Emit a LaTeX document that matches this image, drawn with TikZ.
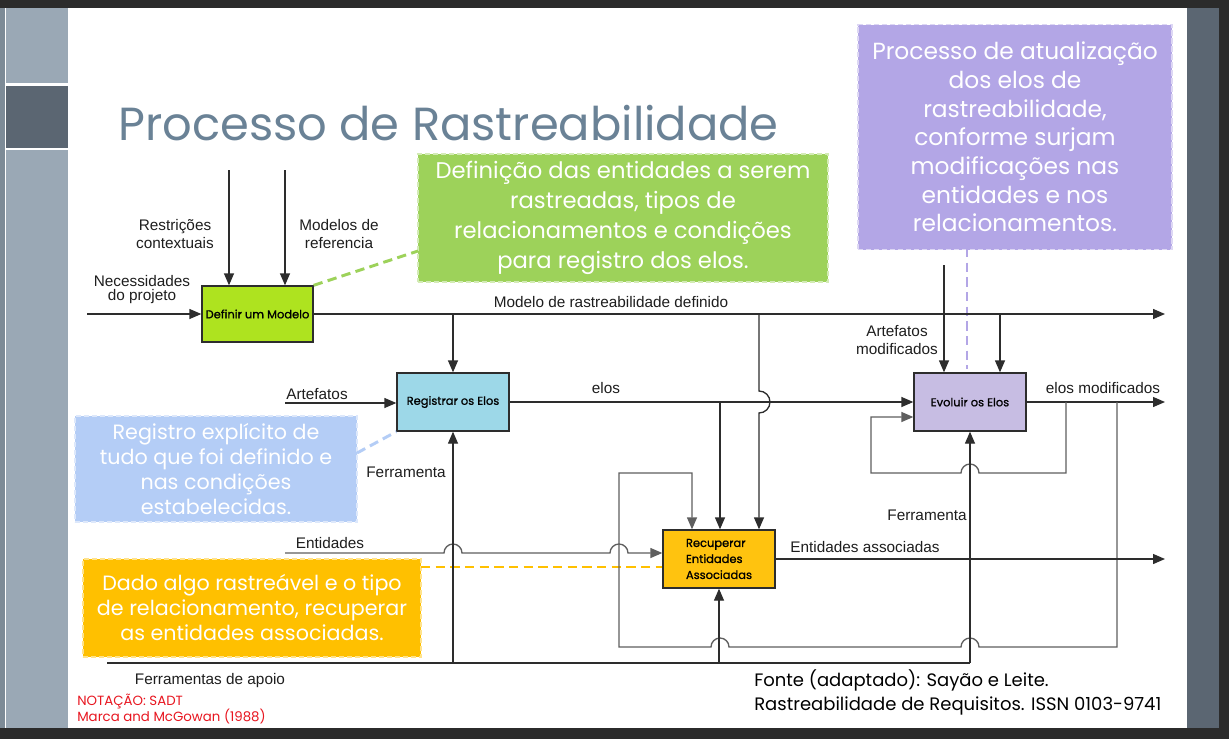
\documentclass[tikz,border=0pt]{standalone}
\usepackage{fontspec}
\setmainfont{Liberation Sans}
\newfontfamily\geofont{Poppins}
\newfontfamily\geoboxfont{Poppins}[FakeBold=1]
\definecolor{framedark}{RGB}{43, 43, 43}
\definecolor{edgeslate}{RGB}{125, 139, 151}
\definecolor{sidelight}{RGB}{154, 168, 181}
\definecolor{sidedark}{RGB}{91, 102, 114}
\definecolor{titleslate}{RGB}{106, 130, 150}
\definecolor{linegray}{RGB}{45, 45, 45}
\definecolor{loopgray}{RGB}{95, 95, 95}
\definecolor{labelgray}{RGB}{30, 30, 30}
\definecolor{modelgreen}{RGB}{174, 227, 31}
\definecolor{regblue}{RGB}{157, 216, 232}
\definecolor{recamber}{RGB}{255, 195, 15}
\definecolor{evolilac}{RGB}{199, 189, 227}
\definecolor{notegreen}{RGB}{157, 210, 90}
\definecolor{notelilac}{RGB}{179, 166, 230}
\definecolor{noteblue}{RGB}{180, 205, 246}
\definecolor{noteamber}{RGB}{255, 192, 0}
\definecolor{notered}{RGB}{232, 22, 32}
\usetikzlibrary{arrows.meta, calc}

\tikzset{
  flow/.style={draw=linegray, line width=1pt},
  arr/.style={flow, -{Triangle[length=9pt, width=7.5pt]}},
  procbox/.style={draw=linegray, line width=1pt, minimum width=84pt, minimum height=43.5pt,
    inner sep=2pt, font=\geoboxfont\fontsize{8.6pt}{12pt}\selectfont},
  lbl/.style={text=labelgray, inner sep=0pt, align=center, font=\fontsize{11.5pt}{13pt}\selectfont},
  notebox/.style={dash pattern=on 4pt off 2pt, line width=1pt, text=white, align=center, inner sep=0pt},
  notelink/.style={dash pattern=on 7pt off 4pt, line width=2.2pt},
}

\begin{document}
\begin{tikzpicture}[x=0.75pt, y=-0.75pt]
  \useasboundingbox (0,0) rectangle (1229,739);
  % slide frame
  \fill[framedark] (0,0) rectangle (1229,739);
  \fill[edgeslate] (0,8) rectangle (5,728);
  \fill[white] (5,8) rectangle (1187,728);
  \fill[sidelight] (6,8) rectangle (68,83);
  \fill[sidedark] (6,86) rectangle (68,148);
  \fill[sidelight] (6,150) rectangle (68,728);
  \fill[sidedark] (1187,8) rectangle (1219,728);

  \node[anchor=base west, inner sep=0pt, text=titleslate, font=\geofont\fontsize{34.8pt}{40pt}\selectfont] (title) at (118,140) {Processo de Rastreabilidade};

  % activities
  \node[procbox, fill=modelgreen, minimum width=83.25pt, minimum height=42pt] (defmod) at (257.5,314) {Definir um Modelo};
  \node[procbox, fill=regblue] (reg) at (453,402) {Registrar os Elos};
  \node[procbox, fill=evolilac] (evo) at (970,402) {Evoluir os Elos};
  \node[procbox, fill=recamber, align=left] (rec) at (719,559) {Recuperar\\Entidades\\Associadas};

  % notes
  \node[notebox, fill=notegreen, draw=notegreen!45!white, minimum width=307.5pt, minimum height=96pt,
    font=\geofont\fontsize{17pt}{22.5pt}\selectfont] (defnote) at (623,218)
    {Definição das entidades a serem\\rastreadas, tipos de\\relacionamentos e condições\\para registro dos elos.};
  \node[notebox, fill=notelilac, draw=notelilac!45!white, minimum width=235.5pt, minimum height=168.75pt,
    font=\geofont\fontsize{17.5pt}{21.5pt}\selectfont] (evonote) at (1015,137)
    {Processo de atualização\\dos elos de\\rastreabilidade,\\conforme surjam\\modificações nas\\entidades e nos\\relacionamentos.};
  \node[notebox, fill=noteblue, draw=noteblue!45!white, minimum width=211.5pt, minimum height=79.5pt,
    font=\geofont\fontsize{15.5pt}{18.75pt}\selectfont] (regnote) at (216,469)
    {Registro explícito de\\tudo que foi definido e\\nas condições\\estabelecidas.};
  \node[notebox, fill=noteamber, draw=noteamber!45!white, minimum width=253.5pt, minimum height=73.5pt,
    font=\geofont\fontsize{15.5pt}{18.75pt}\selectfont] (recnote) at (252,608)
    {Dado algo rastreável e o tipo\\de relacionamento, recuperar\\as entidades associadas.};

  \coordinate (defnotetip) at (418,251);
  \coordinate (evonotetip) at (967,248);
  \coordinate (regnotetip) at (357,453);
  \coordinate (recnotetip) at (421,567);
  \draw[notelink, draw=notegreen] (defmod.north east) -- (defnotetip);
  \draw[notelink, draw=notelilac] (evonotetip) -- (967,369);
  \draw[notelink, draw=noteblue] (regnotetip) -- (reg.south west);
  \draw[notelink, draw=noteamber] (recnotetip) -- (recnotetip -| rec.west);

  % inputs and controls of the model
  \coordinate (needin) at (87,314);
  \coordinate (constrin) at (229,170);
  \coordinate (refin) at (285,170);
  \coordinate (modelout) at (1165,314);
  \draw[arr] (needin) -- (defmod.west);
  \draw[arr] (constrin) -- (constrin |- defmod.north);
  \draw[arr] (refin) -- (refin |- defmod.north);
  \draw[arr] (defmod.east) -- (modelout);
  \draw[arr] (reg.north |- modelout) -- (reg.north);
  \coordinate (modeltap) at (759,314);
  \draw[arr] (modeltap) -- (759,391) arc[start angle=90, end angle=-90, radius=8.25pt] -- (modeltap |- rec.north);
  \coordinate (evotap) at (1000,314);
  \draw[arr] (evotap) -- (evotap |- evo.north);
  \coordinate (artmodin) at (944,265);
  \draw[arr] (artmodin) -- (artmodin |- evo.north);

  % links
  \coordinate (artin) at (285,403);
  \draw[arr] (artin) -- (artin -| reg.west);
  \draw[arr] (reg.east) -- (evo.west);
  \coordinate (elostap) at (720,402);
  \draw[arr] (elostap) -- (elostap |- rec.north);
  \coordinate (elosout) at (1165,402);
  \draw[arr] (evo.east) -- (elosout);

  % feedback loops
  \coordinate (evoloop) at (1066,402);
  \draw[arr, draw=loopgray] (evoloop) -- (1066,473) -- (979,473) arc[start angle=0, end angle=180, radius=6.75pt]
    -- (871,473) -- (871,417) coordinate (evoback) -- (evoback -| evo.west);
  \coordinate (recloop) at (1117,402);
  \draw[arr, draw=loopgray] (recloop) -- (1117,647) -- (979,647) arc[start angle=0, end angle=180, radius=6.75pt]
    -- (729,647) arc[start angle=0, end angle=180, radius=6.75pt]
    -- (619,647) -- (619,473) -- (692,473) coordinate (recback) -- (recback |- rec.north);

  % entities
  \coordinate (entin) at (285,553);
  \draw[arr, draw=loopgray] (entin) -- (444,553) arc[start angle=180, end angle=0, radius=6.75pt]
    -- (610,553) arc[start angle=180, end angle=0, radius=6.75pt] -- (rec.west |- entin);
  \coordinate (entout) at (1165,559);
  \draw[arr] (rec.east) -- (entout);

  % support tools
  \coordinate (toolin) at (107,663);
  \coordinate (toolend) at (970,663);
  \draw[flow] (toolin) -- (toolend);
  \draw[arr] (reg.south |- toolin) -- (reg.south);
  \draw[arr] (rec.south |- toolin) -- (rec.south);
  \draw[arr] (toolend) -- (evo.south);

  % labels
  \node[lbl] (constrlbl) at (175,234) {Restrições\\contextuais};
  \node[lbl] (reflbl) at (339,234) {Modelos de\\referencia};
  \node[lbl, font=\fontsize{11.5pt}{10.5pt}\selectfont] (needlbl) at (142,290) {Necessidades\\do projeto};
  \node[lbl] (modellbl) at (611,302) {Modelo de rastreabilidade definido};
  \node[lbl] (artlbl) at (317,394) {Artefatos};
  \node[lbl] (eloslbl) at (606,388) {elos};
  \node[lbl] (artmodlbl) at (897,340) {Artefatos\\modificados};
  \node[lbl] (elosmodlbl) at (1103,388) {elos modificados};
  \node[lbl] (reqtoollbl) at (406,472) {Ferramenta};
  \node[lbl] (evotoollbl) at (927,515) {Ferramenta};
  \node[lbl] (entlbl) at (330,543) {Entidades};
  \node[lbl] (entoutlbl) at (865,547) {Entidades associadas};
  \node[lbl] (toollbl) at (210,681) {Ferramentas de apoio};

  % notation and source
  \node[anchor=base west, inner sep=0pt, align=left, text=notered, font=\geofont\fontsize{10pt}{12pt}\selectfont] (notation) at (77,721)
    {NOTAÇÃO: SADT\\Marca and McGowan (1988)};
  \node[anchor=base west, inner sep=0pt, align=left, text=black, font=\geofont\fontsize{13.5pt}{18pt}\selectfont] (source) at (754,710)
    {Fonte (adaptado): Sayão e Leite.\\Rastreabilidade de Requisitos. ISSN 0103-9741};
\end{tikzpicture}
\end{document}
